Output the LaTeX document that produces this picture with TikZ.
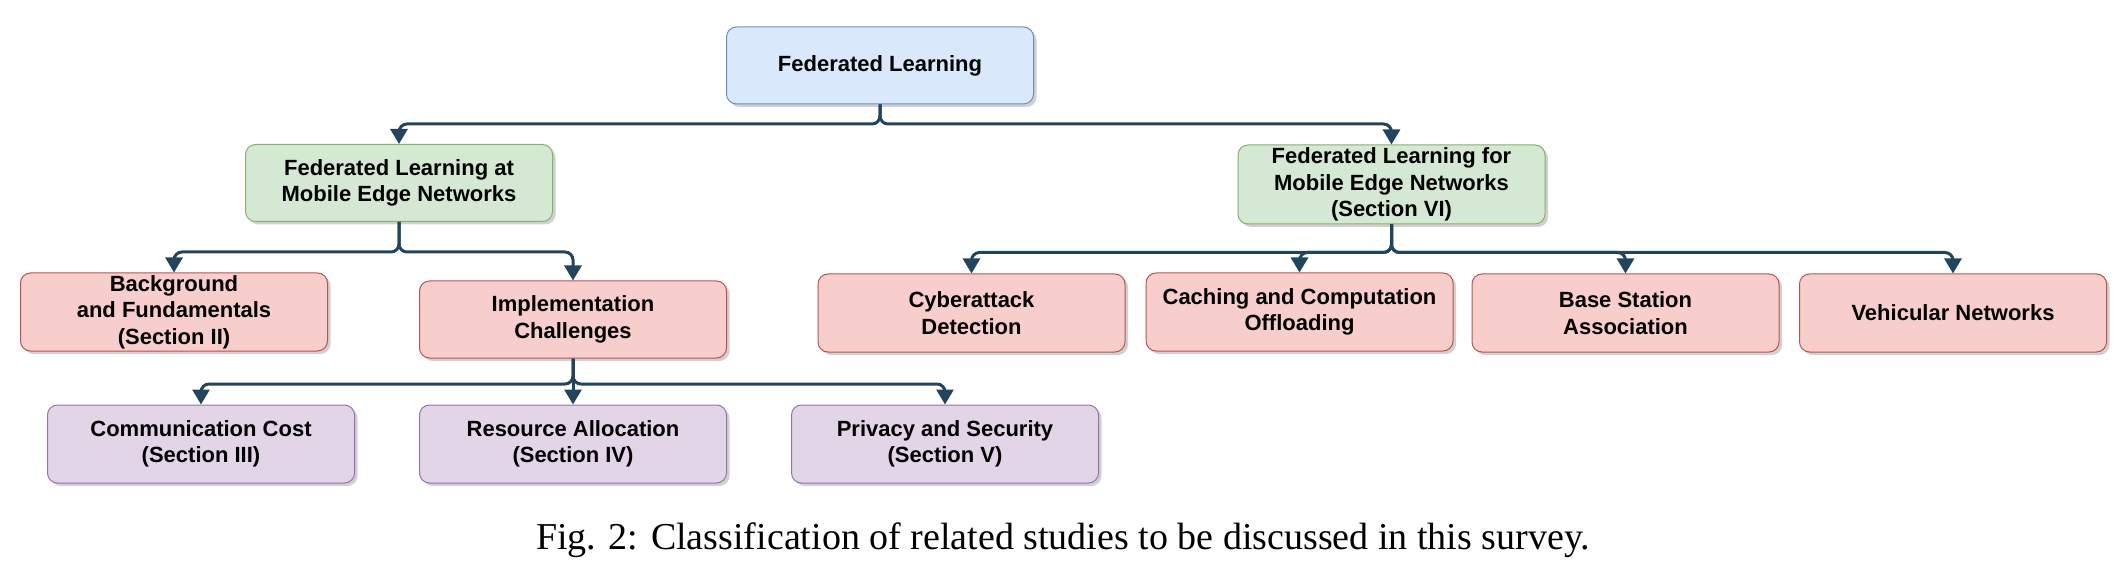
\documentclass[tikz,border=0pt]{standalone}
\usepackage{fontspec}
\setmainfont{Liberation Serif}
\newfontfamily\boxfont{Liberation Sans}
\usetikzlibrary{arrows.meta,shadows}
\definecolor{conncol}{HTML}{23445D}
\definecolor{bluefill}{HTML}{DAE8FC}\definecolor{bluedraw}{HTML}{6C8EBF}
\definecolor{greenfill}{HTML}{D5E8D4}\definecolor{greendraw}{HTML}{82B366}
\definecolor{redfill}{HTML}{F8CECC}\definecolor{reddraw}{HTML}{B85450}
\definecolor{purpfill}{HTML}{E1D5E7}\definecolor{purpdraw}{HTML}{9673A6}
\tikzset{
  box/.style={rectangle, rounded corners=5pt, line width=0.5pt, align=center,
    minimum width=153.5pt, minimum height=38.5pt, inner xsep=3pt, inner ysep=0pt,
    font=\boxfont\bfseries\fontsize{11}{13.3}\selectfont,
    drop shadow={shadow xshift=1.5pt, shadow yshift=-1.5pt, opacity=0.3, fill=black!60}},
  bluebox/.style={box, fill=bluefill, draw=bluedraw},
  greenbox/.style={box, fill=greenfill, draw=greendraw},
  redbox/.style={box, fill=redfill, draw=reddraw},
  purpbox/.style={box, fill=purpfill, draw=purpdraw},
  conn/.style={draw=conncol, line width=1.5pt, rounded corners=4pt,
    -{Triangle[width=8.5pt,length=7.5pt,fill=conncol]}},
}
\begin{document}
\begin{tikzpicture}[x=0.5pt,y=-0.5pt]
\useasboundingbox (0,0) rectangle (2126,572);
% nodes
\node[bluebox] (root) at (880,65.5) {Federated Learning};
\node[greenbox] (lg) at (399,183) {Federated Learning at\\Mobile Edge Networks};
\node[greenbox, minimum height=39.5pt] (rg) at (1391.5,184.5) {Federated Learning for\\Mobile Edge Networks\\(Section VI)};
\node[redbox, minimum height=39pt] (bg) at (174,312) {Background\\and Fundamentals\\(Section II)};
\node[redbox] (impl) at (573,319.5) {Implementation\\Challenges};
\node[purpbox, minimum height=39pt] (comm) at (201,444) {Communication Cost\\(Section III)};
\node[purpbox, minimum height=39pt] (res) at (573,444) {Resource Allocation\\(Section IV)};
\node[purpbox, minimum height=39pt] (priv) at (945,444) {Privacy and Security\\(Section V)};
\node[redbox, minimum height=39pt] (cyber) at (971.5,313) {Cyberattack\\Detection};
\node[redbox, minimum height=39pt] (cach) at (1299.5,312) {Caching and Computation\\Offloading};
\node[redbox, minimum height=39pt] (base) at (1625.5,313) {Base Station\\Association};
\node[redbox, minimum height=39pt] (veh) at (1953,313) {Vehicular Networks};
\node[font=\fontsize{19}{23}\selectfont] (cap) at (1063,540) {Fig. 2: Classification of related studies to be discussed in this survey.};
% bus levels
\coordinate (b0) at (0,124);
\coordinate (b1) at (0,252);
\coordinate (b2) at (0,252.5);
\coordinate (b3) at (0,384);
% connectors
\foreach \c in {lg,rg}
  \draw[conn] (root.south) -- (root.south |- b0) -- (\c.north |- b0) -- (\c.north);
\foreach \c in {bg,impl}
  \draw[conn] (lg.south) -- (lg.south |- b1) -- (\c.north |- b1) -- (\c.north);
\foreach \c in {cyber,cach,base,veh}
  \draw[conn] (rg.south) -- (rg.south |- b2) -- (\c.north |- b2) -- (\c.north);
\foreach \c in {comm,priv}
  \draw[conn] (impl.south) -- (impl.south |- b3) -- (\c.north |- b3) -- (\c.north);
\draw[conn] (impl.south) -- (res.north);
\end{tikzpicture}
\end{document}
